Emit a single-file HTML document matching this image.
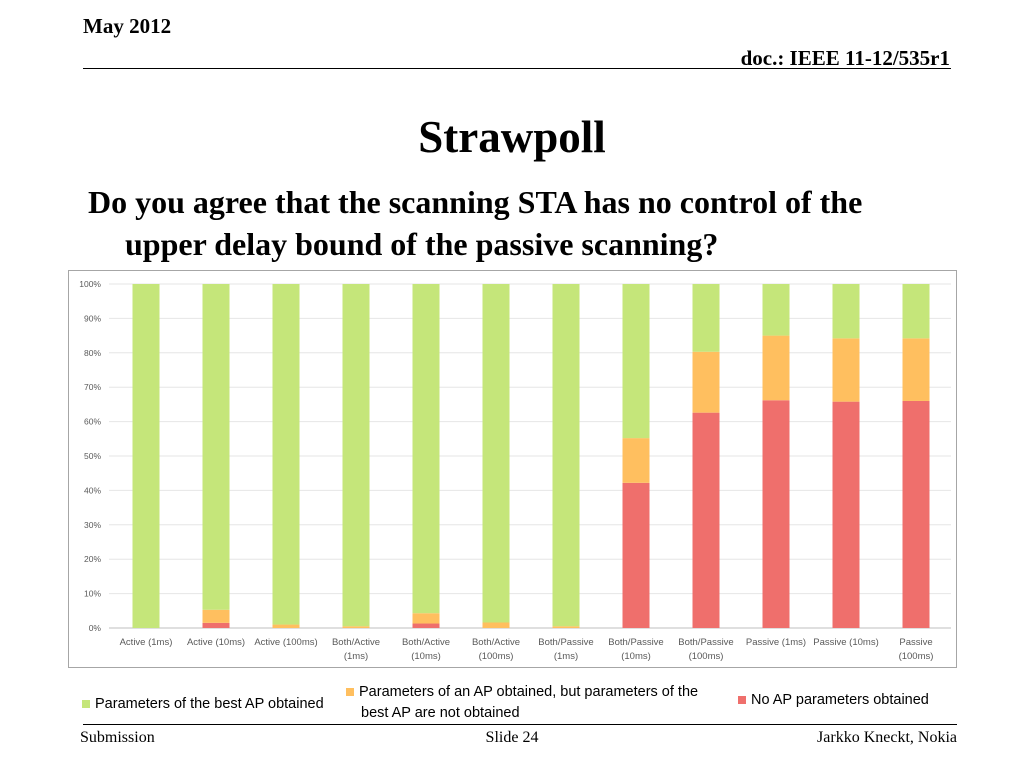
<!DOCTYPE html>
<html><head><meta charset="utf-8"><style>
body{margin:0;width:1024px;height:768px;background:#fff;position:relative;overflow:hidden;font-family:"Liberation Serif",serif}
.a{position:absolute;white-space:nowrap}
</style></head><body>
<div class="a" style="left:83px;top:14px;font-size:21px;font-weight:bold">May 2012</div>
<div class="a" style="right:74px;top:46px;font-size:21px;font-weight:bold">doc.: IEEE 11-12/535r1</div>
<div class="a" style="left:83px;top:68px;width:868px;height:1px;background:#000"></div>
<div class="a" style="left:0;width:1024px;text-align:center;top:111px;font-size:45px;font-weight:bold">Strawpoll</div>
<div class="a" style="left:88px;top:181px;font-size:32px;font-weight:bold;line-height:42px">Do you agree that the scanning STA has no control of the<br><span style="margin-left:37px">upper delay bound of the passive scanning?</span></div>
<svg class="a" style="left:0;top:0" width="1024" height="768">
<rect x="68.5" y="270.5" width="888" height="397" fill="#fff" stroke="#a6a6a6"/>
<g id="g"></g>
</svg>
<div class="a" style="left:82px;top:696px;font-family:'Liberation Sans',sans-serif;font-size:14.5px"><span style="display:inline-block;width:8px;height:8px;background:#c5e67a;margin-right:5px"></span>Parameters of the best AP obtained</div>
<div class="a" style="left:346px;top:682px;font-family:'Liberation Sans',sans-serif;font-size:14.5px;line-height:21px"><span style="display:inline-block;width:8px;height:8px;background:#ffbf5f;margin-right:5px"></span>Parameters of an AP obtained, but parameters of the<br><span style="margin-left:15px">best AP are not obtained</span></div>
<div class="a" style="left:738px;top:692px;font-family:'Liberation Sans',sans-serif;font-size:14.5px"><span style="display:inline-block;width:8px;height:8px;background:#ef6f6c;margin-right:5px"></span>No AP parameters obtained</div>
<div class="a" style="left:83px;top:724px;width:874px;height:1px;background:#000"></div>
<div class="a" style="left:80px;top:729px;font-size:16px">Submission</div>
<div class="a" style="left:0;width:1024px;text-align:center;top:729px;font-size:16px">Slide 24</div>
<div class="a" style="right:67px;top:729px;font-size:16px">Jarkko Kneckt, Nokia</div>
<script>
const categories=[["Active (1ms)"],["Active (10ms)"],["Active (100ms)"],["Both/Active","(1ms)"],["Both/Active","(10ms)"],["Both/Active","(100ms)"],["Both/Passive","(1ms)"],["Both/Passive","(10ms)"],["Both/Passive","(100ms)"],["Passive (1ms)"],["Passive (10ms)"],["Passive","(100ms)"]];
const noAP=[0,1.5,0,0,1.3,0,0,42.2,62.6,66.2,65.8,66];
const anAP=[0,3.8,1,0.5,3,1.6,0.5,13,17.7,18.8,18.4,18.2];
const yTicks=[0,10,20,30,40,50,60,70,80,90,100];
const ns="http://www.w3.org/2000/svg",g=document.getElementById('g');
const x0=111,bw=70,y0=628,y1=284;
const y=v=>y0-(y0-y1)*v/100;
const xc=i=>x0+bw*(i+0.5);
function mk(t,a,txt){const e=document.createElementNS(ns,t);for(const k in a)e.setAttribute(k,a[k]);if(txt!=null)e.textContent=txt;g.appendChild(e);return e;}
yTicks.forEach(v=>{
const l=mk('line',{x1:x0-2,x2:x0+bw*12,y1:y(v),y2:y(v),stroke:v?'#e6e6e6':'#bfbfbf'});


const t=mk('text',{x:101,y:y(v)+3,'text-anchor':'end','font-size':8.5,'font-family':'Liberation Sans, sans-serif',fill:'#595959'},v+'%');


});
categories.forEach((c,i)=>{
const r=noAP[i],o=anAP[i],cx=xc(i)-13.5;
const segs=[[0,r,'#ef6f6c','bar-no-ap'],[r,r+o,'#ffbf5f','bar-an-ap'],[r+o,100,'#c5e67a','bar-best-ap']];
segs.forEach(s=>{if(s[1]-s[0]<=0)return;
const b=mk('rect',{x:cx,y:y(s[1]),width:27,height:y(s[0])-y(s[1]),fill:s[2]});

});
c.forEach((ln,j)=>{const t=mk('text',{x:xc(i),y:645+j*14,'text-anchor':'middle','font-size':9.5,'font-family':'Liberation Sans, sans-serif',fill:'#595959'},ln);

});
});
</script>
</body></html>
